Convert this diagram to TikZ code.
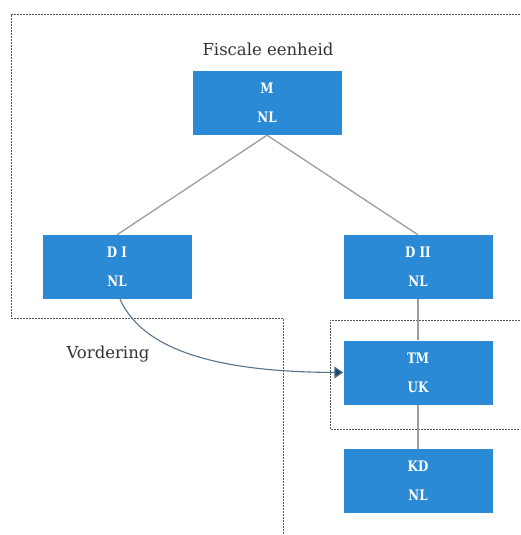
\documentclass[tikz,border=0pt]{standalone}
\usepackage{fontspec}
\setmainfont{DejaVu Serif}
\newfontfamily\boxfont[FakeStretch=0.82]{DejaVu Serif}
\usetikzlibrary{arrows.meta}
\definecolor{boxblue}{RGB}{43,138,214}
\definecolor{linkgray}{RGB}{155,158,162}
\definecolor{borderdark}{RGB}{85,90,95}
\definecolor{claimline}{RGB}{90,115,140}
\definecolor{claimtip}{RGB}{30,70,110}
\begin{document}
\begin{tikzpicture}[x=1pt,y=-1pt,
  entity/.style={fill=boxblue,draw=none,minimum width=149pt,minimum height=64pt,
    text=white,font=\boxfont\bfseries\fontsize{14.5}{29}\selectfont,align=center,inner sep=0pt},
  border/.style={draw=borderdark,line width=0.8pt,dash pattern=on 2pt off 1pt},
  link/.style={draw=linkgray,line width=1.3pt},
  claim/.style={draw=claimline,line width=1.1pt,-{Triangle[length=9pt,width=12pt,fill=claimtip]}},
  label/.style={text=black!80,font=\fontsize{16.5}{19}\selectfont}]
  \useasboundingbox (0,0) rectangle (520,535);
  \fill[white] (0,0) rectangle (520,535);

  % group boundaries
  \draw[border] (520,14) -- (11,14) -- (11,318) -- (283,318) -- (283,535);
  \draw[border] (520,320) -- (330,320) -- (330,429) -- (520,429);

  % entities
  \node[entity] (M)   at (267,103) {M\\NL};
  \node[entity] (DI)  at (117,267) {D I\\NL};
  \node[entity] (DII) at (418,267) {D II\\NL};
  \node[entity] (TM)  at (418,372.5) {TM\\UK};
  \node[entity] (KD)  at (418,481) {KD\\NL};

  % labels
  \node[label] (fe) at (268,49) {Fiscale eenheid};
  \node[label,anchor=west] (vord) at (63,354) {Vordering};

  % ownership links
  \draw[link] (M.south) -- (DI.north);
  \draw[link] (M.south) -- (DII.north);
  \draw[link] (DII.south) -- (TM.north);
  \draw[link] (TM.south) -- (KD.north);

  % claim
  \draw[claim] ([xshift=3pt]DI.south) .. controls (145,355) and (230,372) .. (TM.west);
\end{tikzpicture}
\end{document}
